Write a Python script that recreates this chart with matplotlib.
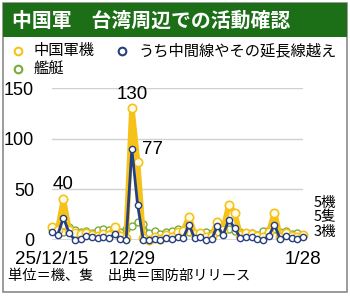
import matplotlib
matplotlib.use("Agg")
from matplotlib import pyplot as plt
from matplotlib.patches import Rectangle
import numpy as np

plt.rcParams['font.family'] = ['Noto Sans CJK JP', 'DejaVu Sans']
num_font = ['Liberation Sans', 'DejaVu Sans']

# daily counts, 2025/12/15 .. 2026/1/28
aircraft = [13, 10, 40, 10, 7, 6, 7, 5, 4, 6, 5, 13, 4, 2, 130, 77, 2,
            0, 3, 1, 5, 3, 8, 9, 23, 6, 7, 3, 4, 18, 10, 35, 27, 5, 7, 6, 4,
            3, 8, 27, 3, 7, 4, 3, 5]
crossing = [8, 5, 22, 7, 0, 1, 4, 3, 2, 3, 2, 6, 1, 0, 90, 35, 0,
            0, 1, 0, 2, 1, 3, 2, 15, 2, 3, 0, 1, 14, 5, 20, 12, 2, 3, 3, 1,
            0, 4, 15, 1, 4, 2, 1, 3]
ships = [11, 9, 8, 13, 10, 8, 9, 7, 10, 11, 10, 7, 8, 11, 14, 18, 16,
         7, 9, 6, 8, 9, 11, 10, 8, 6, 7, 8, 7, 8, 9, 11, 9, 8, 6, 7, 5,
         9, 10, 11, 8, 9, 6, 7, 5]
tick_pos = [0, 14, 44]
tick_labels = ["25/12/15", "12/29", "1/28"]
y_ticks = [0, 50, 100, 150]

c_air = "#f6c21a"
c_cross = "#263f7e"
c_ship = "#7aab3a"
c_title = "#1c6e17"

W, H = 350, 296
fig = plt.figure(figsize=(W / 100, H / 100), dpi=100)
fig.patch.set_facecolor("white")

# frame and title bar
fig.patches.append(Rectangle((3 / W, 4 / H), 344 / W, 289 / H, transform=fig.transFigure,
                             fill=False, edgecolor="#8a8a8a", lw=1.2))
fig.patches.append(Rectangle((3 / W, (H - 37) / H), 344 / W, 34 / H, transform=fig.transFigure,
                             facecolor=c_title, edgecolor="none"))
fig.text(12 / W, (H - 20) / H, "中国軍　台湾周辺での活動確認", color="white",
         fontsize=14.3, fontweight="bold", va="center", ha="left")

# legend
def legend_item(x, y, color, label):
    fig.lines.append(plt.Line2D([x / W], [(H - y) / H], marker="o", markersize=5.5,
                                markerfacecolor="white", markeredgecolor=color,
                                markeredgewidth=1.5, transform=fig.transFigure))
    fig.text((x + 16) / W, (H - y) / H, label, fontsize=11, va="center", ha="left")

legend_item(18, 51, c_air, "中国軍機")
legend_item(122, 51, c_cross, "うち中間線やその延長線越え")
legend_item(18, 69, c_ship, "艦艇")

ax = fig.add_axes([52 / W, (H - 240) / H, 251 / W, 152 / H])
x = np.arange(len(aircraft))
for s in ax.spines.values():
    s.set_visible(False)
for v in y_ticks[1:]:
    ax.axhline(v, color="#d0d0d0", lw=1, zorder=0)
ax.axhline(0, color="#444444", lw=1, zorder=0)

ax.plot(x, ships, color=c_ship, lw=1.5, marker="o", markersize=5,
        markerfacecolor="white", markeredgecolor=c_ship, markeredgewidth=1, clip_on=False, zorder=2)
ax.plot(x, aircraft, color=c_air, lw=4, marker="o", markersize=6,
        markerfacecolor="#fffbe6", markeredgecolor=c_air, markeredgewidth=1.2, clip_on=False, zorder=3)
ax.plot(x, crossing, color=c_cross, lw=2, marker="o", markersize=4.5,
        markerfacecolor="white", markeredgecolor=c_cross, markeredgewidth=1, clip_on=False, zorder=4)

ax.set_xlim(0, len(aircraft) - 1)
ax.set_ylim(0, 150)
ax.set_yticks(y_ticks)
ax.set_yticklabels([str(v) for v in y_ticks], fontsize=13, family=num_font)
ax.set_xticks(tick_pos)
ax.set_xticklabels(tick_labels, fontsize=13.5, family=num_font)
ax.tick_params(length=0)
ax.tick_params(axis="x", pad=8)
ax.tick_params(axis="y", pad=13)

ax.annotate("40", (2, aircraft[2]), xytext=(0, 5), textcoords="offset points",
            ha="center", va="bottom", fontsize=13.5, family=num_font)
ax.annotate("130", (14, aircraft[14]), xytext=(0, 4), textcoords="offset points",
            ha="center", va="bottom", fontsize=13.5, family=num_font)
ax.annotate(str(aircraft[15]), (15, aircraft[15]), xytext=(3, 3), textcoords="offset points",
            ha="left", va="bottom", fontsize=13.5, family=num_font)

# end labels
fig.text(314 / W, (H - 203) / H, f"{aircraft[-1]}機", fontsize=10.5, va="center", ha="left")
fig.text(314 / W, (H - 217) / H, f"{ships[-1]}隻", fontsize=10.5, va="center", ha="left")
fig.text(314 / W, (H - 232) / H, f"{crossing[-1]}機", fontsize=10.5, va="center", ha="left")

fig.text(8 / W, (H - 276) / H, "単位＝機、隻　出典＝国防部リリース", fontsize=10.3,
         va="center", ha="left")

fig.savefig("out.png", dpi=100)
